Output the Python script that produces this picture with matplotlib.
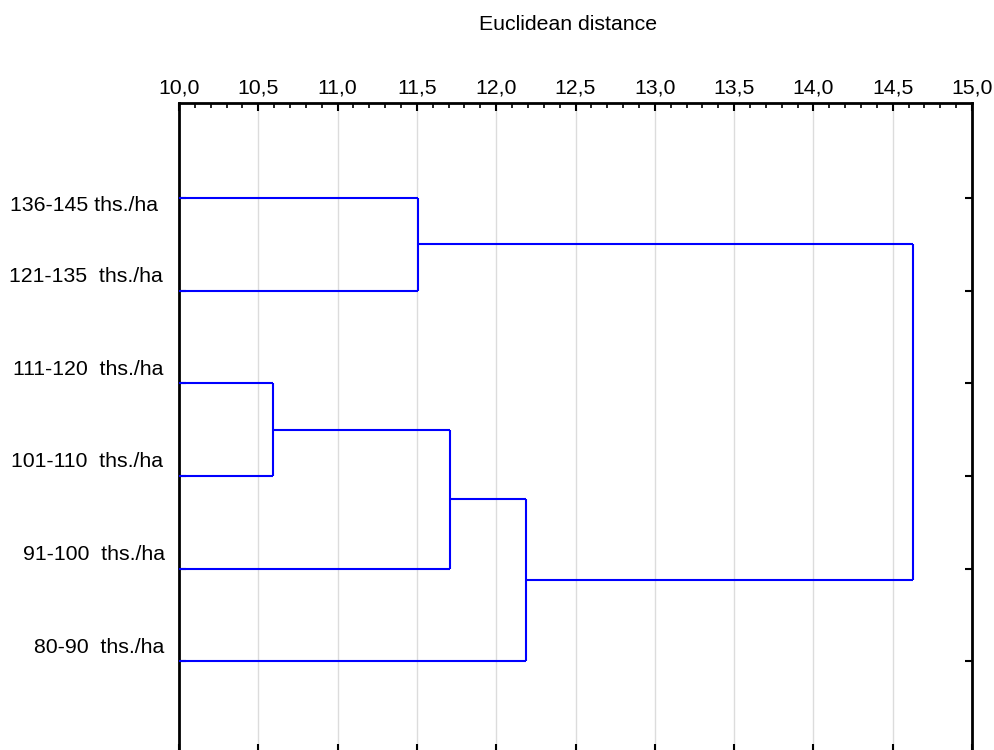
import matplotlib
matplotlib.use("Agg")
import matplotlib.pyplot as plt
from matplotlib.transforms import ScaledTranslation
from matplotlib.ticker import MultipleLocator

plt.rcParams['font.family'] = ['Liberation Sans', 'DejaVu Sans']

# ---- data ----
leaf_labels = ["136-145 ths./ha", "121-135  ths./ha", "111-120  ths./ha",
               "101-110  ths./ha", "91-100  ths./ha", "80-90  ths./ha"]
# merges: (node_a, node_b, distance); leaves are 0..5, new nodes 6, 7, ...
merge_a = [0, 2, 7, 8, 6]
merge_b = [1, 3, 4, 5, 9]
merge_dist = [11.51, 10.595, 11.71, 12.185, 14.625]
x_ticks = [10.0, 10.5, 11.0, 11.5, 12.0, 12.5, 13.0, 13.5, 14.0, 14.5, 15.0]
x_tick_labels = ["10,0", "10,5", "11,0", "11,5", "12,0", "12,5", "13,0",
                 "13,5", "14,0", "14,5", "15,0"]
x_title = "Euclidean distance"

# ---- figure ----
fs = 15.3
fig = plt.figure(figsize=(9.95, 7.5), dpi=100)
ax = fig.add_axes([179/995, 1 - 752/750, 793/995, (752-103)/750])

x_min, x_max = 10.0, 15.0
ax.set_xlim(x_min, x_max)
ax.set_ylim(6.98, -0.026)

# node positions
node_x = [x_min] * len(leaf_labels)
node_y = [i + 1 for i in range(len(leaf_labels))]
line_kw = dict(color='#0000ff', lw=1.5, solid_capstyle='butt', zorder=3)
for a, b, d in zip(merge_a, merge_b, merge_dist):
    for c in (a, b):
        ax.plot([node_x[c], d], [node_y[c], node_y[c]], **line_kw)
    ax.plot([d, d], [node_y[a], node_y[b]], **line_kw)
    node_x.append(d)
    node_y.append((node_y[a] + node_y[b]) / 2)

# x axis on top
ax.xaxis.tick_top()
ax.set_xticks(x_ticks)
ax.set_xticklabels(x_tick_labels, fontsize=fs)
ax.xaxis.set_minor_locator(MultipleLocator(0.1))
ax.tick_params(axis='x', which='major', direction='in', length=6, width=1.5,
               top=True, bottom=True, pad=4, labeltop=True, labelbottom=False)
ax.tick_params(axis='x', which='minor', direction='in', length=3.5, width=1.2,
               top=True, bottom=False)
ax.grid(axis='x', which='major', color='#dcdcdc', lw=1.0, zorder=0)

# y ticks
ax.set_yticks(node_y[:len(leaf_labels)])
ax.set_yticklabels([])
ax.tick_params(axis='y', which='major', direction='in', length=5, width=1.5,
               left=True, right=True)

for sp in ax.spines.values():
    sp.set_linewidth(2.0)
    sp.set_color('black')

# leaf labels
dx_px = [-21, -16, -16, -16, -14, -15]
dy_px = [-7, 14, 14, 14, 14, 14]
for lab, y, dx, dy in zip(leaf_labels, node_y, dx_px, dy_px):
    tr = ax.get_yaxis_transform() + ScaledTranslation(dx/100, dy/100, fig.dpi_scale_trans)
    ax.text(0, y, lab, transform=tr, ha='right', va='center', fontsize=fs)

fig.text(568/995, 1 - 24/750, x_title, ha='center', va='center', fontsize=fs)

fig.savefig("out.png", dpi=100)
